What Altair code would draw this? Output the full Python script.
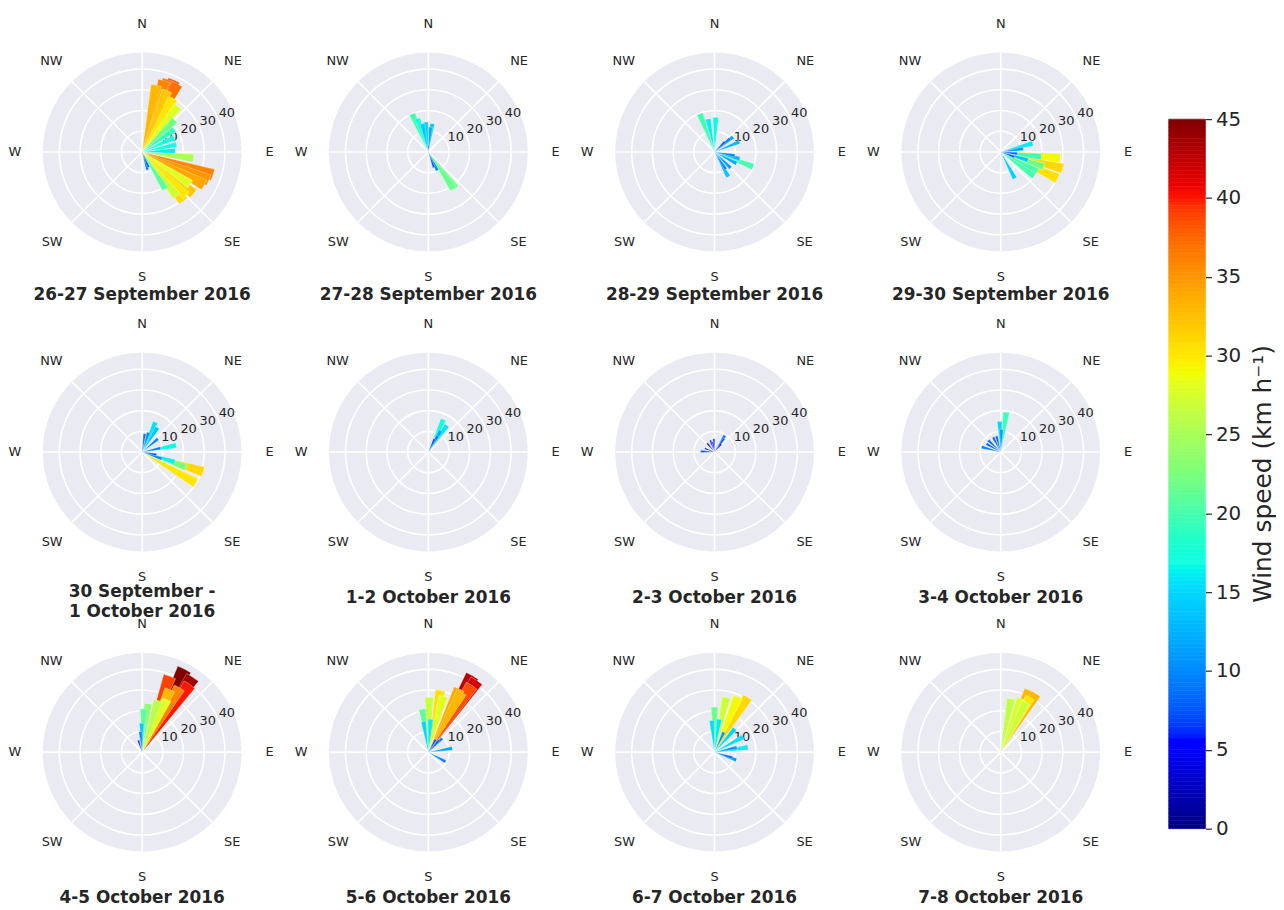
import altair as alt
import numpy as np
import pandas as pd

FONT = "DejaVu Sans"
TXT = "#262626"
BG = "#EAEAF2"

titles = [
    ["26-27 September 2016"], ["27-28 September 2016"], ["28-29 September 2016"], ["29-30 September 2016"],
    ["30 September -", "1 October 2016"], ["1-2 October 2016"], ["2-3 October 2016"], ["3-4 October 2016"],
    ["4-5 October 2016"], ["5-6 October 2016"], ["6-7 October 2016"], ["7-8 October 2016"],
]
colorbar_title = "Wind speed (km h\u207b\u00b9)"

# wind direction (deg, clockwise from N) and wind speed (km/h) per panel
p1_dir = [12, 17, 20, 24, 27, 22, 30, 38, 46, 55, 66, 78, 88, 97, 108, 113, 118, 124, 129, 135, 140, 142, 148, 157, 163]
p1_spd = [33, 36, 37, 38, 37, 32, 30, 28, 22, 19, 17, 17, 16, 25, 36, 35, 34, 28, 32, 30, 31, 27, 21, 8, 9]
p2_dir = [337, 342, 348, 355, 5, 8, 0, 143, 146, 154, 160]
p2_spd = [20, 17, 14, 14.5, 12, 13.8, 3, 22, 21.5, 10, 8]
p3_dir = [339, 349, 2, 49, 51, 68, 45, 100, 105, 111, 118, 135, 147, 151]
p3_spd = [19.7, 16.3, 16.8, 9.8, 11.5, 13, 7, 10, 12.6, 20, 12, 11, 10, 13.7]
p4_dir = [75, 82, 96, 97, 96, 105, 115, 118, 109, 126, 152, 107, 110]
p4_spd = [16, 11, 8, 19.7, 29, 31, 30.4, 20, 22, 20, 14.5, 13.7, 7]
p5_dir = [24, 32, 8, 18, 50, 79, 78, 109, 107, 109, 108, 120, 100]
p5_spd = [15.8, 14, 9, 10, 10, 16.8, 9, 10, 16.4, 22.5, 31, 30, 7]
p6_dir = [25, 35, 30, 30, 25]
p6_spd = [17.3, 15.7, 12, 9, 7]
p7_dir = [32, 35, 357, 340, 320, 273, 290, 40, 350]
p7_spd = [9.4, 8, 6.4, 6, 5.5, 6.7, 5, 5, 5]
p8_dir = [8, 358, 2, 333, 313, 285, 300, 345]
p8_spd = [19.4, 14.8, 11, 8, 8.3, 9.6, 8, 8]
p9_dir = [27, 34, 20, 35, 24, 25, 17, 7, 2, 359, 355, 342, 30]
p9_spd = [45, 43.7, 39, 40, 33, 28, 26, 23.5, 21, 14, 10, 6, 36]
p10_dir = [30, 34, 33, 26, 29, 11, 15, 1, 352, 351, 4, 42, 45, 81, 119, 30]
p10_spd = [42.6, 41.8, 38.5, 34, 33, 30.4, 28, 26.5, 21, 15, 16, 7.7, 9.4, 11.7, 9.5, 7]
p11_dir = [31, 23, 12, 0, 355, 8, 25, 41, 62, 82, 78, 110, 107]
p11_spd = [31, 29, 27, 21.8, 15.4, 16, 10.7, 15, 15.6, 16.3, 11, 11.2, 9]
p12_dir = [25, 31, 28, 11, 21, 27]
p12_spd = [33, 33, 30, 26.3, 27.6, 27]

panels = [
    (p1_dir, p1_spd), (p2_dir, p2_spd), (p3_dir, p3_spd), (p4_dir, p4_spd),
    (p5_dir, p5_spd), (p6_dir, p6_spd), (p7_dir, p7_spd), (p8_dir, p8_spd),
    (p9_dir, p9_spd), (p10_dir, p10_spd), (p11_dir, p11_spd), (p12_dir, p12_spd),
]

ring_values = [10, 20, 30, 40]
compass = ["N", "NE", "E", "SE", "S", "SW", "W", "NW"]
colorbar_ticks = [0, 5, 10, 15, 20, 25, 30, 35, 40, 45]
CMAX = 45

# ---- layout (pixels) ----
RMAX = 48.0          # radial axis limit
RPX = 100.0          # radius of each polar disc in px
PX = RPX / RMAX      # px per radial unit
GW, GH = 1140, 902   # grid area
COL0, COLSTEP = 135, 288
ROW0, ROWSTEP = 142, 302
BW = 9.0             # bar width (deg)
TITLE_OFFS = [144, 147, 147]
LINE_H = 20
RC = [62.0, 62.0, 61.5, 61.5, 60.5, 61.5, 61.5, 62.0]   # compass label radius (units)

xs = alt.Scale(domain=[0, GW / PX], nice=False, zero=False)
ys = alt.Scale(domain=[0, GH / PX], nice=False, zero=False, reverse=True)
ts = alt.Scale(domain=[0, 360], range=[0, 2 * np.pi])
rs = alt.Scale(type="linear", domain=[0, RMAX], range=[0, RPX], nice=False, zero=True)


# jet colormap
def jet(v):
    r = np.interp(v, [0, 0.35, 0.66, 0.89, 1], [0, 0, 1, 1, 0.5])
    g = np.interp(v, [0, 0.125, 0.375, 0.64, 0.91, 1], [0, 0, 1, 1, 0, 0])
    b = np.interp(v, [0, 0.11, 0.34, 0.65, 1], [0.5, 1, 1, 0, 0])
    return "#%02x%02x%02x" % (int(round(r * 255)), int(round(g * 255)), int(round(b * 255)))


stops = [0, 0.11, 0.125, 0.34, 0.35, 0.375, 0.5, 0.64, 0.65, 0.66, 0.89, 0.91, 1]
cs = alt.Scale(domain=[s * CMAX for s in stops], range=[jet(s) for s in stops], clamp=True)

# ---- build tables ----
ang = np.radians(np.arange(0, 360, 45))
a_lab = np.radians(67.5)
disc_rows, ring_rows, spoke_rows, rlab_rows, bar_rows, comp_rows, ttl_rows = [], [], [], [], [], [], []
for i, (dirs, spds) in enumerate(panels):
    r, c = divmod(i, 4)
    cx = (COL0 + c * COLSTEP) / PX
    cy = (ROW0 + r * ROWSTEP) / PX
    disc_rows.append({"cx": cx, "cy": cy, "t0": 0, "t1": 360, "r": RMAX})
    for v in ring_values:
        ring_rows.append({"cx": cx, "cy": cy, "t0": 0, "t1": 360, "r": v})
        rlab_rows.append({"cx": cx + v * np.sin(a_lab), "cy": cy - v * np.cos(a_lab), "lab": str(v)})
    for a, lab, rc in zip(ang, compass, RC):
        spoke_rows.append({"cx": cx, "cy": cy, "x1": cx + RMAX * np.sin(a), "y1": cy - RMAX * np.cos(a)})
        comp_rows.append({"cx": cx + rc * np.sin(a), "cy": cy - rc * np.cos(a), "lab": lab})
    order = np.argsort(-np.asarray(spds, dtype=float), kind="stable")
    for k in order:
        bar_rows.append({"cx": cx, "cy": cy, "t0": dirs[k] - BW / 2, "t1": dirs[k] + BW / 2,
                         "spd": spds[k], "seq": len(bar_rows)})
    lines = titles[i]
    off0 = TITLE_OFFS[r] - 6 * (len(lines) - 1)
    for k, ln in enumerate(lines):
        ttl_rows.append({"cx": cx, "cy": cy + (off0 + k * LINE_H) / PX, "lab": ln})

X = alt.X("cx:Q", scale=xs, axis=None)
Y = alt.Y("cy:Q", scale=ys, axis=None)
theta = alt.Theta("t0:Q", scale=ts, stack=None)

disc = alt.Chart(pd.DataFrame(disc_rows)).mark_arc(color=BG).encode(
    x=X, y=Y, theta=theta, theta2="t1:Q", radius=alt.Radius("r:Q", scale=rs))
rings = alt.Chart(pd.DataFrame(ring_rows)).mark_arc(fillOpacity=0, stroke="white", strokeWidth=1.6).encode(
    x=X, y=Y, theta=theta, theta2="t1:Q", radius=alt.Radius("r:Q", scale=rs))
spokes = alt.Chart(pd.DataFrame(spoke_rows)).mark_rule(color="white", strokeWidth=1.6).encode(
    x=X, y=Y, x2="x1:Q", y2="y1:Q")
rlab = alt.Chart(pd.DataFrame(rlab_rows)).mark_text(
    align="left", baseline="bottom", fontSize=13, font=FONT, color=TXT).encode(x=X, y=Y, text="lab:N")
bars = alt.Chart(pd.DataFrame(bar_rows)).mark_arc(stroke="white", strokeWidth=0.5, strokeOpacity=0.6).encode(
    x=X, y=Y, theta=theta, theta2="t1:Q",
    radius=alt.Radius("spd:Q", scale=rs),
    color=alt.Color("spd:Q", scale=cs, legend=None),
    order=alt.Order("seq:Q"),
)
comp = alt.Chart(pd.DataFrame(comp_rows)).mark_text(
    align="center", baseline="middle", fontSize=13, font=FONT, color=TXT).encode(x=X, y=Y, text="lab:N")
ttl = alt.Chart(pd.DataFrame(ttl_rows)).mark_text(
    align="center", baseline="middle", fontSize=17, font=FONT, fontWeight="bold", color=TXT
).encode(x=X, y=Y, text="lab:N")

grid = alt.layer(disc, rings, spokes, rlab, bars, comp, ttl).properties(width=GW, height=GH)

# ---- colour bar ----
CB_TOP, CB_BOT = 109, 823
edges = np.linspace(0, CMAX, 181)
cb_df = pd.DataFrame({"lo": edges[:-1], "hi": edges[1:]})
cb_df["mid"] = (cb_df["lo"] + cb_df["hi"]) / 2
cb_y = alt.Scale(domain=[0, CMAX], range=[CB_BOT, CB_TOP], nice=False, zero=False)
cbar = alt.Chart(cb_df).mark_rect(strokeWidth=0.6).encode(
    x=alt.value(0), x2=alt.value(37),
    y=alt.Y("lo:Q", scale=cb_y, axis=alt.Axis(
        orient="right", values=colorbar_ticks, tickSize=6, tickWidth=1.2, tickColor=TXT,
        labelFontSize=20, labelFont=FONT, labelColor=TXT, labelPadding=4,
        domain=False, grid=False, title=None)),
    y2="hi:Q",
    color=alt.Color("mid:Q", scale=cs, legend=None),
    stroke=alt.Stroke("mid:Q", scale=cs, legend=None),
)
cbt = alt.Chart(pd.DataFrame({"lab": [colorbar_title]})).mark_text(
    angle=270, align="center", baseline="middle", fontSize=25, font=FONT, color=TXT
).encode(x=alt.value(95), y=alt.value(466), text="lab:N")
cb = alt.layer(cbar, cbt).properties(width=37, height=GH)

chart = alt.hconcat(grid, cb, spacing=27).resolve_scale(color="shared").properties(
    padding=0).configure_view(stroke=None)

chart.save("out.html", embed_options={"renderer": "svg", "actions": False})
